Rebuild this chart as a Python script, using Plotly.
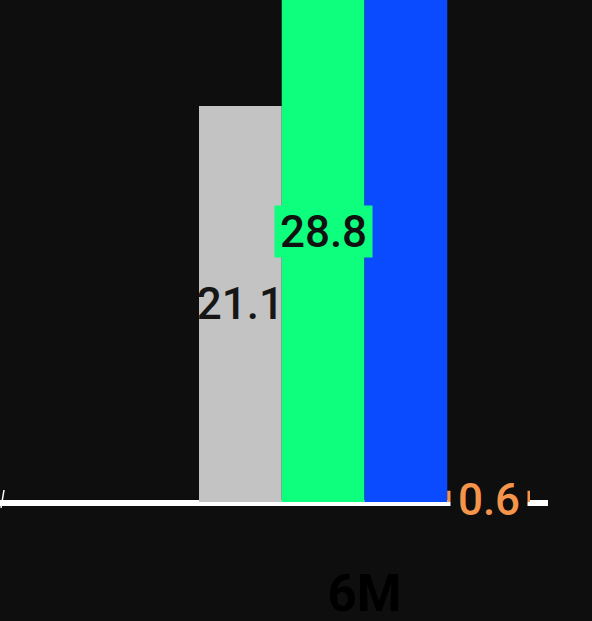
import plotly.graph_objects as go

# Category and series values
categories = ["6M"]
series_names = ["Series A", "Series B", "Series C", "Series D"]
series_values = [[21.1], [28.8], [58.4], [0.6]]
series_colors = ["#c3c3c3", "#0efe7d", "#0a4bff", "#f5944b"]

BG = "#0e0e0e"
FONT = "Roboto"
LABEL_SIZE = 44

fig = go.Figure()
for name, vals, col in zip(series_names, series_values, series_colors):
    fig.add_trace(go.Bar(
        x=categories, y=vals, name=name,
        marker=dict(color=col, line=dict(width=0)),
        showlegend=False, hoverinfo="skip",
    ))

# First series: plain value label inside the bar, centred
fig.data[0].update(
    text=[f"{v:.1f}" for v in series_values[0]],
    textposition="inside", insidetextanchor="middle",
    constraintext="none", textangle=0,
    textfont=dict(family=FONT, size=LABEL_SIZE, color="#161616", weight=500),
)

# Group offsets for annotations placed over the bars
n = len(series_names)
bargap = 0.2
width = (1 - bargap) / n
offsets = [-(1 - bargap) / 2 + width * (i + 0.5) for i in range(n)]

# Second series: label on a matching coloured box
fig.add_annotation(
    x=offsets[1], y=series_values[1][0] / 2, xref="x", yref="y",
    text=f"{series_values[1][0]:.1f}", showarrow=False,
    font=dict(family=FONT, size=LABEL_SIZE, color="#111111", weight=500),
    bgcolor=series_colors[1], borderpad=0, width=97, height=51,
)

# Fourth series: label sitting on the baseline
fig.add_annotation(
    x=offsets[3], y=series_values[3][0] / 2 - 0.2, xref="x", yref="y",
    text=f"{series_values[3][0]:.1f}", showarrow=False,
    font=dict(family=FONT, size=LABEL_SIZE, color=series_colors[3], weight=500),
    bgcolor=BG, borderpad=0, width=76, height=48,
)

# Baseline
fig.add_shape(type="line", xref="paper", yref="paper",
              x0=0, x1=548 / 592, y0=-1 / 502, y1=-1 / 502,
              line=dict(color="#ffffff", width=6), layer="below")
fig.add_shape(type="line", xref="paper", yref="paper",
              x0=1 / 592, x1=4 / 592, y0=-6 / 502, y1=12 / 502,
              line=dict(color="#ffffff", width=1.5))

px_per_unit = 331 / (1 - bargap)
center_px = 364.5
fig.update_layout(
    width=592, height=621,
    margin=dict(l=0, r=0, t=0, b=119),
    paper_bgcolor=BG, plot_bgcolor=BG,
    barmode="group", bargap=bargap, bargroupgap=0,
    xaxis=dict(
        range=[-center_px / px_per_unit, (592 - center_px) / px_per_unit],
        showgrid=False, zeroline=False, showline=False, ticks="",
        tickfont=dict(family=FONT, size=51, color="#000000", weight="bold"),
        ticklabelstandoff=57, automargin=False,
    ),
    yaxis=dict(range=[0, 502 / (396 / 21.1)], showgrid=False, zeroline=False,
               showline=False, showticklabels=False, automargin=False),
)

fig.write_html("out.html")
